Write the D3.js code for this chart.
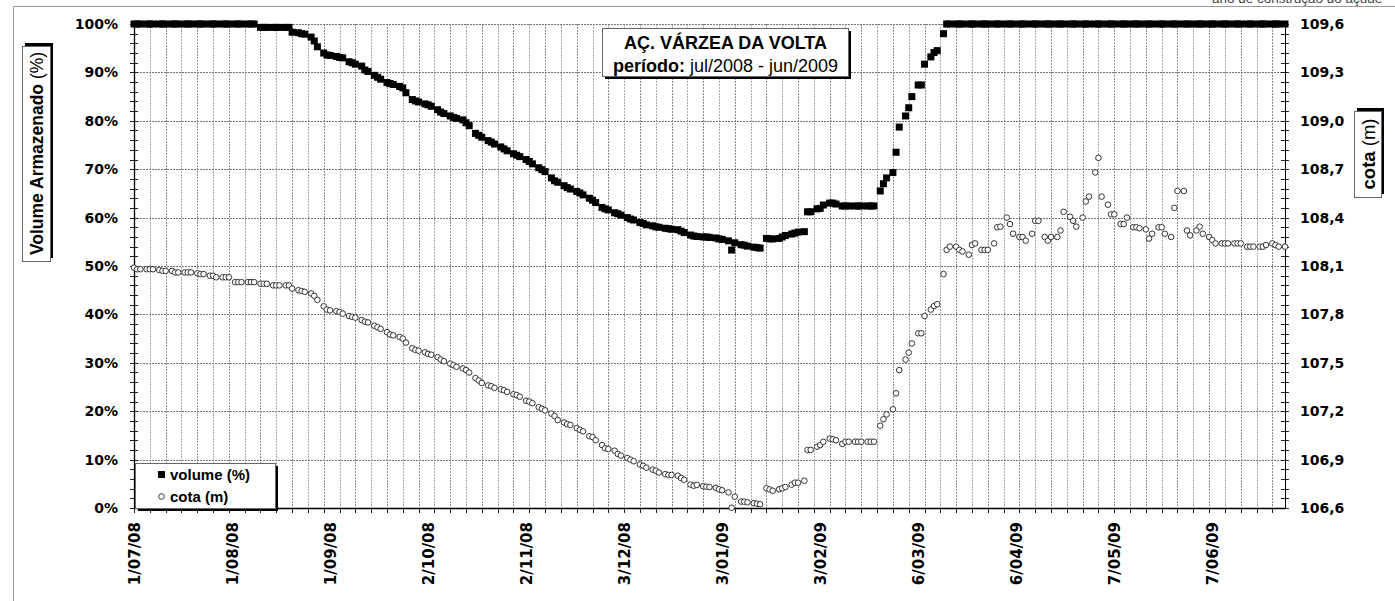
<!DOCTYPE html>
<html>
<head>
<meta charset="utf-8">
<script src="https://cdn.jsdelivr.net/npm/d3@7"></script>
<style>
  body { margin: 0; background: #fff; }
</style>
</head>
<body>
<div id="chart"></div>
<script>
// days since 1/07/2008 for each reading
const dias = [
  0,1,2,4,5,6,8,9,10,12,13,14,
  16,17,18,20,21,22,24,25,26,28,29,30,
  32,33,34,36,37,38,40,41,42,44,45,46,
  48,49,50,52,53,54,56,57,58,60,61,62,
  64,65,66,68,69,70,72,73,74,76,77,78,
  80,81,82,84,85,86,88,89,90,92,93,94,
  96,97,98,100,101,102,104,105,106,108,109,110,
  112,113,114,116,117,118,120,121,122,124,125,126,
  128,129,130,132,133,134,136,137,138,140,141,142,
  144,145,146,148,149,150,152,153,154,156,157,158,
  160,161,162,164,165,166,168,169,170,172,173,174,
  176,177,178,180,181,182,184,185,186,188,189,190,
  192,193,194,196,197,198,200,201,202,204,205,206,
  208,209,210,212,213,214,216,217,218,220,221,222,
  224,225,226,228,229,230,232,233,234,236,237,238,
  240,241,242,244,245,246,248,249,250,252,253,254,
  256,257,258,260,261,262,264,265,266,268,269,270,
  272,273,274,276,277,278,280,281,282,284,285,286,
  288,289,290,292,293,294,296,297,298,300,301,302,
  304,305,306,308,309,310,312,313,314,316,317,318,
  320,321,322,324,325,326,328,329,330,332,333,334,
  336,337,338,340,341,342,344,345,346,348,349,350,
  352,353,354,356,357,358,360,361,362,364
]

// volume armazenado (%)
const volume = [
  100,100,100,100,100,100,100,100,100,100,100,100,
  100,100,100,100,100,100,100,100,100,100,100,100,
  100,100,100,100,100,100,99.3,99.3,99.3,99.3,99.3,99.3,
  99.3,99.3,98.3,98.2,98.0,97.9,97.3,96.5,95.3,94.0,93.6,93.5,
  93.3,93.1,93.0,92.2,92.0,91.7,91.3,90.5,90.2,89.4,89.0,88.6,
  87.9,87.7,87.5,87.1,86.8,85.8,84.4,84.1,83.9,83.5,83.3,83.0,
  82.3,81.8,81.5,81.0,80.7,80.5,80.2,79.6,79.0,77.4,77.0,76.6,
  75.9,75.6,75.2,74.6,74.2,73.8,73.2,72.9,72.6,72.0,71.6,71.1,
  70.3,69.9,69.5,68.2,67.6,67.3,66.6,66.2,65.9,65.4,65.1,64.7,
  64.0,63.6,63.1,62.1,61.8,61.6,61.0,60.8,60.5,60.0,59.7,59.5,
  59.0,58.8,58.5,58.3,58.1,58.0,57.8,57.7,57.6,57.5,57.2,56.9,
  56.4,56.2,56.1,56.0,56.0,55.9,55.8,55.6,55.5,55.2,53.3,54.8,
  54.4,54.3,54.1,53.9,53.8,53.7,55.7,55.6,55.6,55.7,56.0,56.3,
  56.6,56.8,57.0,57.1,61.2,61.2,61.8,61.9,62.6,63.0,63.0,62.8,
  62.4,62.4,62.4,62.4,62.4,62.4,62.4,62.4,62.4,65.5,67.0,68.2,
  69.3,73.5,78.7,81.0,82.7,85.0,87.4,87.4,91.7,93.2,94.1,94.5,
  98.0,100,100,100,100,100,100,100,100,100,100,100,
  100,100,100,100,100,100,100,100,100,100,100,100,
  100,100,100,100,100,100,100,100,100,100,100,100,
  100,100,100,100,100,100,100,100,100,100,100,100,
  100,100,100,100,100,100,100,100,100,100,100,100,
  100,100,100,100,100,100,100,100,100,100,100,100,
  100,100,100,100,100,100,100,100,100,100
]

// cota (m)
const cota = [
  108.09,108.08,108.08,108.08,108.08,108.08,108.075,108.07,108.07,108.07,108.06,108.06,
  108.06,108.06,108.06,108.055,108.05,108.05,108.04,108.04,108.03,108.03,108.03,108.03,
  108.0,108.0,108.0,108.0,108.0,108.0,107.99,107.99,107.99,107.98,107.98,107.98,
  107.98,107.98,107.96,107.95,107.945,107.94,107.93,107.915,107.89,107.85,107.83,107.825,
  107.82,107.815,107.805,107.79,107.785,107.78,107.765,107.755,107.75,107.73,107.72,107.71,
  107.69,107.675,107.67,107.66,107.65,107.625,107.59,107.58,107.575,107.565,107.555,107.55,
  107.535,107.52,107.51,107.495,107.485,107.475,107.465,107.455,107.44,107.405,107.39,107.375,
  107.36,107.355,107.345,107.335,107.33,107.32,107.305,107.3,107.29,107.265,107.26,107.25,
  107.225,107.215,107.205,107.185,107.17,107.145,107.13,107.12,107.115,107.095,107.085,107.075,
  107.045,107.04,107.02,106.99,106.97,106.966,106.955,106.935,106.925,106.91,106.9,106.89,
  106.87,106.862,106.85,106.838,106.831,106.82,106.81,106.805,106.805,106.8,106.786,106.775,
  106.745,106.738,106.743,106.735,106.732,106.73,106.725,106.716,106.71,106.697,106.602,106.67,
  106.64,106.639,106.635,106.63,106.627,106.623,106.722,106.715,106.707,106.716,106.722,106.73,
  106.745,106.757,106.757,106.769,106.96,106.96,106.98,106.99,107.01,107.03,107.026,107.02,
  106.997,107.011,107.011,107.011,107.011,107.011,107.011,107.011,107.011,107.11,107.15,107.18,
  107.212,107.311,107.455,107.52,107.563,107.62,107.683,107.683,107.79,107.83,107.852,107.863,
  108.05,108.2,108.22,108.22,108.2,108.19,108.17,108.23,108.24,108.2,108.2,108.2,
  108.24,108.34,108.344,108.4,108.36,108.3,108.28,108.28,108.257,108.3,108.38,108.38,
  108.28,108.257,108.28,108.28,108.32,108.436,108.405,108.38,108.344,108.4,108.5,108.53,
  108.68,108.77,108.53,108.48,108.42,108.42,108.36,108.36,108.4,108.34,108.34,108.334,
  108.327,108.27,108.3,108.34,108.34,108.3,108.28,108.46,108.565,108.565,108.32,108.29,
  108.32,108.344,108.3,108.28,108.26,108.24,108.24,108.24,108.24,108.24,108.24,108.24,
  108.22,108.22,108.22,108.22,108.22,108.23,108.24,108.23,108.22,108.22
]

const diasRotulos = [0,31,62,93,124,155,186,217,248,279,310,341]
const rotulosDatas = ['1/07/08','1/08/08','1/09/08','2/10/08','2/11/08','3/12/08',
  '3/01/09','3/02/09','6/03/09','6/04/09','7/05/09','7/06/09']
const ticksVolume = [0,10,20,30,40,50,60,70,80,90,100]
const ticksCota = [106.6,106.9,107.2,107.5,107.8,108.1,108.4,108.7,109.0,109.3,109.6]

const W = 1395, H = 601
const plot = { left: 134, right: 1285, top: 24, bottom: 508 }
const numFont = '"DejaVu Sans", sans-serif'
const txtFont = '"Liberation Sans", Arial, sans-serif'

const svg = d3.select('#chart').append('svg')
  .attr('width', W)
  .attr('height', H)
svg.append('rect').attr('width', W).attr('height', H).attr('fill', '#fff')

// outer frame (only top and left edges are visible)
svg.append('line').attr('x1', 13.5).attr('x2', W).attr('y1', 6.5).attr('y2', 6.5)
  .attr('stroke', '#999')
svg.append('line').attr('x1', 13.5).attr('x2', 13.5).attr('y1', 6.5).attr('y2', H)
  .attr('stroke', '#999')
// note sitting above the frame, clipped by the top edge like in the source
svg.append('text')
  .attr('x', 1212).attr('y', 2.5)
  .attr('font-family', txtFont).attr('font-size', 13.5).attr('fill', '#444')
  .text('ano de construção do açude')

const x = d3.scaleLinear().domain([0, 364]).range([plot.left, plot.right])
const yVol = d3.scaleLinear().domain([0, 100]).range([plot.bottom, plot.top])
const yCota = d3.scaleLinear().domain([106.6, 109.6]).range([plot.bottom, plot.top])

// grid
const grid = svg.append('g')
grid.selectAll('.gv')
  .data(d3.range(5, 364, 5))
  .enter().append('line')
  .attr('x1', d => Math.round(x(d)) + 0.5)
  .attr('x2', d => Math.round(x(d)) + 0.5)
  .attr('y1', plot.top)
  .attr('y2', plot.bottom)
  .attr('stroke', d => d % 10 === 0 ? '#8c8c8c' : '#a8a8a8')
  .attr('stroke-dasharray', '2,1')
grid.selectAll('.gh')
  .data(ticksVolume.slice(1))
  .enter().append('line')
  .attr('x1', plot.left)
  .attr('x2', plot.right)
  .attr('y1', d => Math.round(yVol(d)) + 0.5)
  .attr('y2', d => Math.round(yVol(d)) + 0.5)
  .attr('stroke', '#777')
  .attr('stroke-dasharray', '2,1')

// minor ticks
const ticks = svg.append('g').attr('stroke', '#222')
ticks.selectAll('.tl')
  .data(d3.range(0, 101, 2))
  .enter().append('line')
  .attr('x1', plot.left - 4).attr('x2', plot.left + 4)
  .attr('y1', d => Math.round(yVol(d)) + 0.5)
  .attr('y2', d => Math.round(yVol(d)) + 0.5)
ticks.selectAll('.tr')
  .data(d3.range(0, 51))
  .enter().append('line')
  .attr('x1', plot.right - 4).attr('x2', plot.right + 4)
  .attr('y1', i => Math.round(yCota(106.6 + i * 0.06)) + 0.5)
  .attr('y2', i => Math.round(yCota(106.6 + i * 0.06)) + 0.5)
ticks.selectAll('.tb')
  .data(d3.range(0, 365, 5))
  .enter().append('line')
  .attr('x1', d => Math.round(x(d)) + 0.5)
  .attr('x2', d => Math.round(x(d)) + 0.5)
  .attr('y1', plot.bottom).attr('y2', plot.bottom + 5)

// axes
const axL = svg.append('g')
  .attr('transform', `translate(${plot.left},0)`)
  .call(d3.axisLeft(yVol).tickValues(ticksVolume).tickFormat(d => d + '%')
    .tickSize(0).tickPadding(16).tickSizeOuter(0))
  .attr('font-family', numFont).attr('font-size', 14).attr('font-weight', 'bold')
axL.select('.domain').attr('stroke', '#000').attr('stroke-width', 1.3)

const fmtCota = d3.format('.1f')
const axR = svg.append('g')
  .attr('transform', `translate(${plot.right},0)`)
  .call(d3.axisRight(yCota).tickValues(ticksCota).tickFormat(d => fmtCota(d).replace('.', ','))
    .tickSize(0).tickPadding(15).tickSizeOuter(0))
  .attr('font-family', numFont).attr('font-size', 14).attr('font-weight', 'bold')
axR.select('.domain').attr('stroke', '#000').attr('stroke-width', 1)

const axB = svg.append('g')
  .attr('transform', `translate(0,${plot.bottom})`)
  .call(d3.axisBottom(x).tickValues(diasRotulos).tickFormat((d, i) => rotulosDatas[i])
    .tickSize(0).tickSizeOuter(0))
  .attr('font-family', numFont).attr('font-size', 15).attr('font-weight', 'bold')
axB.select('.domain').attr('stroke', '#000').attr('stroke-width', 1.6)
axB.selectAll('.tick text')
  .attr('transform', 'rotate(-90)')
  .attr('text-anchor', 'end')
  .attr('x', -14)
  .attr('y', 0)
  .attr('dy', '0.36em')

// series
const pontos = dias.map((d, i) => ({ dia: d, vol: volume[i], cota: cota[i] }))
svg.append('g').selectAll('rect')
  .data(pontos)
  .enter().append('rect')
  .attr('x', d => x(d.dia) - 3.5)
  .attr('y', d => yVol(d.vol) - 3.5)
  .attr('width', 7)
  .attr('height', 7)
  .attr('fill', '#000')
svg.append('g').selectAll('circle')
  .data(pontos)
  .enter().append('circle')
  .attr('cx', d => x(d.dia))
  .attr('cy', d => yCota(d.cota))
  .attr('r', 2.8)
  .attr('fill', '#fff')
  .attr('stroke', '#333')
  .attr('stroke-width', 1)

// boxes with a solid black shadow
function caixa(x0, y0, w, h, dx, dy) {
  svg.append('rect').attr('x', x0 + dx).attr('y', y0 + dy).attr('width', w).attr('height', h)
    .attr('fill', '#000')
  svg.append('rect').attr('x', x0 + 0.5).attr('y', y0 + 0.5).attr('width', w).attr('height', h)
    .attr('fill', '#fff').attr('stroke', '#666')
}

// title
caixa(602, 28, 246, 48, 3, 3)
const titulo = svg.append('text')
  .attr('font-family', txtFont).attr('font-size', 18).attr('text-anchor', 'middle')
titulo.append('tspan').attr('x', 725.5).attr('y', 48.5).attr('font-weight', 'bold')
  .text('AÇ. VÁRZEA DA VOLTA')
const linha2 = titulo.append('tspan').attr('x', 725.5).attr('y', 71.5)
linha2.append('tspan').attr('font-weight', 'bold').text('período:')
linha2.append('tspan').text(' jul/2008 - jun/2009')

// axis titles
caixa(22, 46, 28, 215, 3, -3)
const tl = svg.append('text')
  .attr('transform', 'translate(37,153.5) rotate(-90)')
  .attr('text-anchor', 'middle').attr('dy', '0.36em')
  .attr('font-family', txtFont).attr('font-size', 17.5)
tl.append('tspan').attr('font-weight', 'bold').text('Volume Armazenado')
tl.append('tspan').text(' (%)')

caixa(1354, 111, 27, 86, 3, -3)
const tr = svg.append('text')
  .attr('transform', 'translate(1368,154) rotate(-90)')
  .attr('text-anchor', 'middle').attr('dy', '0.36em')
  .attr('font-family', txtFont).attr('font-size', 18.5)
tr.append('tspan').attr('font-weight', 'bold').text('cota')
tr.append('tspan').text(' (m)')

// legend
caixa(135, 463, 140, 45, 3, 3)
svg.append('rect').attr('x', 158).attr('y', 471).attr('width', 7).attr('height', 7).attr('fill', '#000')
svg.append('circle').attr('cx', 161.5).attr('cy', 496.5).attr('r', 2.8)
  .attr('fill', '#fff').attr('stroke', '#333').attr('stroke-width', 1)
svg.append('text').attr('x', 170).attr('y', 480)
  .attr('font-family', txtFont).attr('font-size', 15).attr('font-weight', 'bold')
  .text('volume (%)')
svg.append('text').attr('x', 170).attr('y', 502)
  .attr('font-family', txtFont).attr('font-size', 15).attr('font-weight', 'bold')
  .text('cota (m)')
</script>
</body>
</html>
